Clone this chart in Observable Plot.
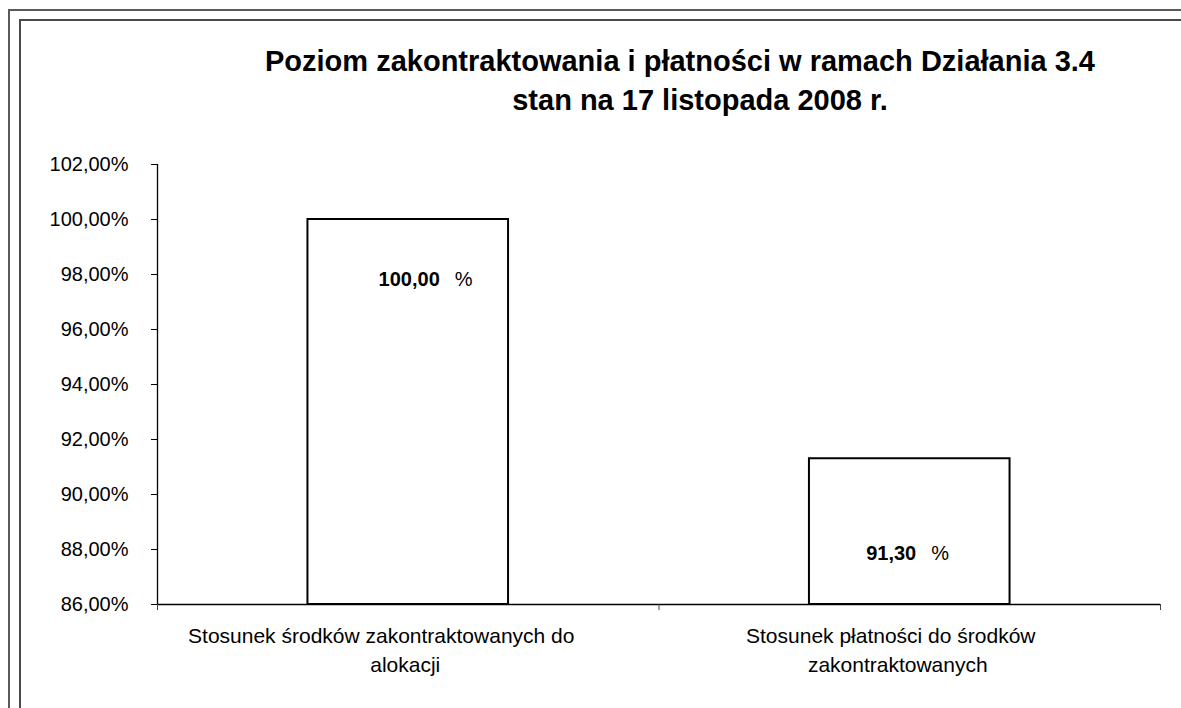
<!DOCTYPE html>
<html>
<head>
<meta charset="utf-8">
<script src="https://cdn.jsdelivr.net/npm/d3@7"></script>
<script src="https://cdn.jsdelivr.net/npm/@observablehq/plot@0.6"></script>
<style>
  html, body { margin: 0; padding: 0; background: #fff; overflow: hidden; width: 1181px; height: 708px; }
  body { position: relative; font-family: "Liberation Sans", Arial, sans-serif; }
  .frame { position: absolute; width: 1400px; height: 900px; box-sizing: border-box; }
  #outer { left: 8px; top: 9px; border-left: 2px solid #5a5a5a; border-top: 2px solid #5a5a5a; }
  #inner { left: 19px; top: 19px; border-left: 2px solid #4a4a4a; border-top: 2px solid #4a4a4a; }
  .title { position: absolute; font-weight: bold; font-size: 29px; line-height: 29px; white-space: nowrap; color: #000; transform: translateX(-50%); }
  #t1 { left: 680px; top: 46.5px; }
  #t2 { left: 700px; top: 85.5px; }
  #chart { position: absolute; left: 0; top: 150px; }
</style>
</head>
<body>
<div class="frame" id="outer"></div>
<div class="frame" id="inner"></div>
<div class="title" id="t1">Poziom zakontraktowania i płatności w ramach Działania 3.4</div>
<div class="title" id="t2">stan na 17 listopada 2008 r.</div>
<div id="chart"></div>
<script>
// ---- data ----
const categoriesLine1 = ["Stosunek środków zakontraktowanych do", "Stosunek płatności do środków"];
const categoriesLine2 = ["alokacji", "zakontraktowanych"];
const values = [100.00, 91.30];
const valueLabels = ["100,00", "91,30"];
const yTicks = [86, 88, 90, 92, 94, 96, 98, 100, 102];

// ---- layout / style (not data) ----
const labelDy = [60, 95];        // value label offset below bar top (px)
const numDx = [31.5, 6.5];       // bold number right edge relative to bar centre
const pctDx = [46.5, 21.5];      // "%" left edge relative to bar centre
const catDx1 = [-27, -19];
const catDx2 = [-3, -12];

const table = values.map((v, i) => ({
  i, value: v, label: valueLabels[i], l1: categoriesLine1[i], l2: categoriesLine2[i]
}));

const yFmt = d => d.toFixed(2).replace(".", ",") + "%";

const marks = [
  Plot.rect(table, {
    x1: d => d.i + 0.3, x2: d => d.i + 0.7,
    y1: 86, y2: "value",
    fill: "white", stroke: "black", strokeWidth: 2
  }),
  Plot.ruleX([0], {y1: 86, y2: 102, stroke: "black", strokeWidth: 1.3}),
  Plot.ruleY([86], {x1: 0, x2: 2, stroke: "black", strokeWidth: 1.6}),
  Plot.axisY({ticks: yTicks, tickFormat: yFmt, tickSize: 6, tickPadding: 23, fontSize: 20, label: null, stroke: "black"}),
  Plot.axisX({ticks: [0, 1, 2], tickFormat: () => "", tickSize: 6, label: null, stroke: "#444"})
];

table.forEach((d, k) => {
  marks.push(Plot.text([d], {x: d => d.i + 0.5, y: "value", text: "label", textAnchor: "end", dx: numDx[k], dy: labelDy[k], fontWeight: "bold", fontSize: 20, fill: "black", lineAnchor: "middle"}));
  marks.push(Plot.text([d], {x: d => d.i + 0.5, y: "value", text: () => "%", textAnchor: "start", dx: pctDx[k], dy: labelDy[k], fontSize: 20, fill: "black", lineAnchor: "middle"}));
  marks.push(Plot.text([d], {x: d => d.i + 0.5, y: 86, text: "l1", dx: catDx1[k], dy: 32, fontSize: 21, fill: "black", lineAnchor: "middle"}));
  marks.push(Plot.text([d], {x: d => d.i + 0.5, y: 86, text: "l2", dx: catDx2[k], dy: 61, fontSize: 21, fill: "black", lineAnchor: "middle"}));
});

const chart = Plot.plot({
  width: 1181,
  height: 558,
  marginLeft: 157,
  marginRight: 21,
  marginTop: 14,
  marginBottom: 104,
  x: {type: "linear", domain: [0, 2], axis: null},
  y: {domain: [86, 102], axis: null},
  style: {fontFamily: "'Liberation Sans', Arial, sans-serif", color: "black", background: "transparent", overflow: "visible"},
  marks
});
document.getElementById("chart").appendChild(chart);
</script>
</body>
</html>
